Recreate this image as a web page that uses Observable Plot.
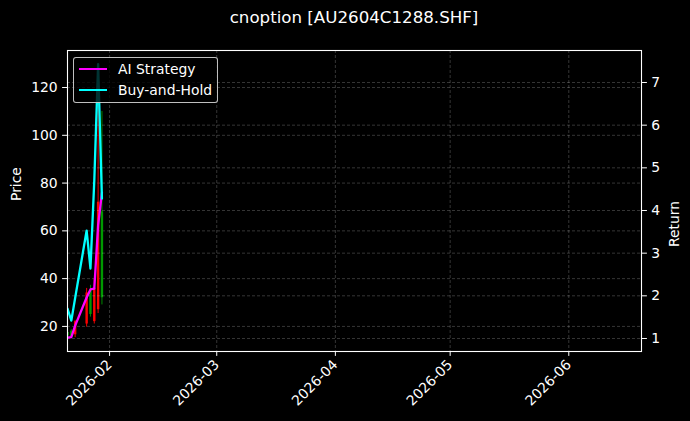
<!DOCTYPE html>
<html>
<head>
<meta charset="utf-8">
<script src="https://cdn.jsdelivr.net/npm/d3@7"></script>
<script src="https://cdn.jsdelivr.net/npm/@observablehq/plot@0.6"></script>
<style>
  html, body { margin: 0; padding: 0; background: #000; }
  #wrap { position: relative; width: 690px; height: 421px; background: #000; overflow: hidden;
          font-family: "DejaVu Sans", sans-serif; color: #fff; }
  #wrap svg { position: absolute; left: 0; top: 0; }
  #title { position: absolute; left: 0; top: 7px; width: 708px; text-align: center;
           font-size: 16.67px; line-height: 22px; }
  #legend { position: absolute; left: 73px; top: 57px; width: 143px; height: 44px;
            border: 1px solid rgba(255,255,255,0.75); border-radius: 3px; background: rgba(0,0,0,0.8);
            font-size: 13.9px; }
  .row { position: absolute; left: 0; height: 20px; width: 143px; }
  .sw { position: absolute; left: 5px; top: 9px; width: 28px; height: 2.4px; }
  .lab { position: absolute; left: 44px; top: 0; line-height: 20px; white-space: nowrap; }
</style>
</head>
<body>
<div id="wrap">
  <div id="title">cnoption [AU2604C1288.SHF]</div>
</div>
<script>
// ---- data ----
const dates    = ["2026-01-21","2026-01-22","2026-01-23","2026-01-26","2026-01-27","2026-01-28","2026-01-29","2026-01-30"];
const opens    = [16.0, 15.8, 22.0, 34.0, 25.0, 36.0, 72.0, 32.0];
const closes   = [17.5, 18.0, 16.5, 21.0, 35.0, 22.0, 27.0, 68.0];
const highs    = [18.5, 18.6, 22.5, 35.9, 37.2, 40.0, 129.8, 110.0];
const lows     = [15.5, 15.2, 15.3, 19.7, 23.9, 21.0, 25.4, 29.0];
const aiReturn = [1.02, 1.03, 1.30, 1.96, 2.15, 2.17, 3.65, 4.42];
const bhReturn = [1.70, 1.42, 1.95, 3.53, 2.64, 4.70, 7.43, 4.28];
const monthTicks  = ["2026-02-01","2026-03-01","2026-04-01","2026-05-01","2026-06-01"];
const priceTicks  = [20, 40, 60, 80, 100, 120];
const returnTicks = [1, 2, 3, 4, 5, 6, 7];
const xDomain = ["2026-01-21", "2026-06-20"];
const priceDomain = [9.5, 135.5];
const returnDomain = [0.695, 7.75];
const seriesNames = ["AI Strategy", "Buy-and-Hold"];
const seriesColors = ["#ff00ff", "#00ffff"];

const rows = dates.map((d, i) => ({
  date: new Date(d), open: opens[i], close: closes[i], high: highs[i], low: lows[i],
  ai: aiReturn[i], bh: bhReturn[i]
}));
const xt = monthTicks.map(d => new Date(d));
const up = rows.filter(r => r.close >= r.open);
const down = rows.filter(r => r.close < r.open);

const common = {
  width: 690, height: 421, marginTop: 50, marginRight: 49, marginBottom: 70, marginLeft: 67,
  style: { background: "transparent", color: "white", fontFamily: "DejaVu Sans, sans-serif", fontSize: "13.9px", overflow: "visible" }
};
const xScale = { type: "utc", domain: xDomain.map(d => new Date(d)) };
const gridStyle = { stroke: "white", strokeOpacity: 0.3, strokeDasharray: "3,2", strokeWidth: 0.7 };

const p1 = Plot.plot({
  ...common,
  x: xScale,
  y: { domain: priceDomain },
  marks: [
    Plot.gridX(xt, gridStyle),
    Plot.gridY(priceTicks, gridStyle),
    Plot.ruleX(up,   { x: "date", y1: "low",  y2: "high",  stroke: "#008800", strokeWidth: 1, clip: true }),
    Plot.ruleX(up,   { x: "date", y1: "open", y2: "close", stroke: "#009900", strokeWidth: 2.4, clip: true }),
    Plot.ruleX(down, { x: "date", y1: "low",  y2: "high",  stroke: "#ee0000", strokeWidth: 1, clip: true }),
    Plot.ruleX(down, { x: "date", y1: "open", y2: "close", stroke: "#ff0000", strokeWidth: 2.4, clip: true }),
    Plot.axisX(xt, { tickFormat: d3.utcFormat("%Y-%m"), tickRotate: -45, tickSize: 4.9, tickPadding: 6, label: null }),
    Plot.axisY(priceTicks, { anchor: "left", tickSize: 4.9, tickPadding: 4.9, label: null }),
    Plot.text(["Price"], { frameAnchor: "left", dx: -51, rotate: -90, fill: "white", text: d => d })
  ]
});

const p2 = Plot.plot({
  ...common,
  x: { ...xScale, axis: null },
  y: { domain: returnDomain },
  marks: [
    Plot.gridY(returnTicks, gridStyle),
    Plot.line(rows, { x: "date", y: "ai", stroke: seriesColors[0], strokeWidth: 2.3, clip: true }),
    Plot.line(rows, { x: "date", y: "bh", stroke: seriesColors[1], strokeWidth: 2.3, clip: true }),
    Plot.axisY(returnTicks, { anchor: "right", tickSize: 4.9, tickPadding: 4.9, label: null }),
    Plot.text(["Return"], { frameAnchor: "right", dx: 33, rotate: -90, fill: "white", text: d => d }),
    Plot.frame({ stroke: "white", strokeWidth: 1.1 })
  ]
});

const wrap = document.getElementById("wrap");
wrap.appendChild(p1);
wrap.appendChild(p2);

const legend = document.createElement("div");
legend.id = "legend";
seriesNames.forEach((name, i) => {
  const row = document.createElement("div");
  row.className = "row";
  row.style.top = (i === 0 ? 1 : 22) + "px";
  row.innerHTML = `<div class="sw" style="background:${seriesColors[i]}"></div><div class="lab">${name}</div>`;
  legend.appendChild(row);
});
wrap.appendChild(legend);
</script>
</body>
</html>
